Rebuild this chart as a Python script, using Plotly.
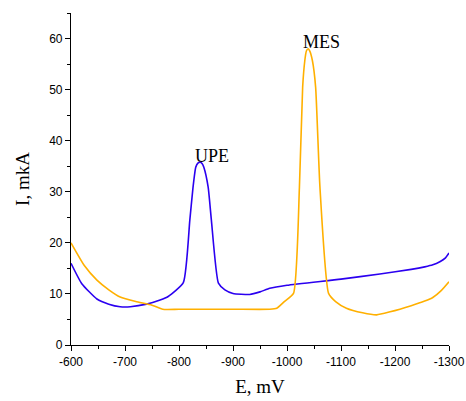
import plotly.graph_objects as go

upe_E = [-600, -620, -648, -670, -691, -710, -740, -765, -780, -808, -820, -826, -831, -835, -839, -843, -846, -854, -860, -873, -885, -900, -931, -950, -968, -1000, -1100, -1172, -1230, -1255, -1270, -1283, -1293, -1300]
upe_I = [16, 12, 9.0, 8.0, 7.5, 7.5, 8.0, 8.8, 9.5, 12.2, 24.4, 30.9, 34.8, 35.6, 35.8, 35.5, 34.8, 30.9, 24.4, 12.1, 10.8, 10.1, 9.9, 10.4, 11.1, 11.7, 12.9, 13.9, 14.8, 15.3, 15.7, 16.3, 17.0, 18.0]

mes_E = [-600, -625, -648, -670, -691, -720, -750, -770, -800, -900, -968, -981, -995, -1012, -1023, -1029, -1033, -1036, -1039, -1042, -1047, -1053, -1061, -1077, -1090, -1110, -1140, -1166, -1191, -1230, -1255, -1270, -1285, -1300]
mes_I = [20, 15.5, 12.7, 10.8, 9.4, 8.5, 7.8, 7.0, 7.0, 7.0, 7.0, 7.2, 8.5, 10.1, 30.9, 50.5, 55.7, 57.6, 58.0, 57.6, 55.7, 50.5, 30.9, 10.1, 8.5, 7.2, 6.3, 5.9, 6.5, 7.7, 8.6, 9.3, 10.6, 12.4]

x_ticks = [-600, -700, -800, -900, -1000, -1100, -1200, -1300]
y_ticks = [0, 10, 20, 30, 40, 50, 60]

fig = go.Figure()
fig.add_trace(go.Scatter(x=upe_E, y=upe_I, mode="lines", line=dict(color="#2b00f0", width=1.6, shape="spline", smoothing=0.5), showlegend=False))
fig.add_trace(go.Scatter(x=mes_E, y=mes_I, mode="lines", line=dict(color="#ffb000", width=1.6, shape="spline", smoothing=0.5), showlegend=False))

fig.add_annotation(x=-840, y=35.8, text="UPE", showarrow=False, yanchor="bottom", yshift=-6, xshift=11,
                   font=dict(family="Liberation Serif", size=18, color="black"))
fig.add_annotation(x=-1039, y=58.0, text="MES", showarrow=False, yanchor="bottom", yshift=-5, xshift=13,
                   font=dict(family="Liberation Serif", size=18, color="black"))

fig.update_layout(
    width=466, height=401,
    margin=dict(l=71, r=17, t=13, b=56, autoexpand=False),
    paper_bgcolor="white", plot_bgcolor="white",
    font=dict(family="Liberation Sans", size=12, color="black"),
    xaxis=dict(range=[-600, -1300], tickvals=x_ticks, ticktext=[str(v) for v in x_ticks], automargin=False,
               showline=True, linecolor="black", linewidth=1.2, ticks="outside", ticklen=5, tickcolor="black",
               showgrid=False, zeroline=False,
               minor=dict(ticks="outside", dtick=50, tick0=-600, ticklen=3, tickcolor="black", showgrid=False),
               title=dict(text="E, mV", font=dict(family="Liberation Serif", size=19), standoff=12)),
    yaxis=dict(range=[0, 65], tickvals=y_ticks, automargin=False,
               showline=True, linecolor="black", linewidth=1.2, ticks="outside", ticklen=5, tickcolor="black",
               showgrid=False, zeroline=False,
               minor=dict(ticks="outside", dtick=5, tick0=0, ticklen=3, tickcolor="black", showgrid=False),
               title=dict(text="I, mkA", font=dict(family="Liberation Serif", size=19), standoff=14)),
)

fig.write_html("out.html")
